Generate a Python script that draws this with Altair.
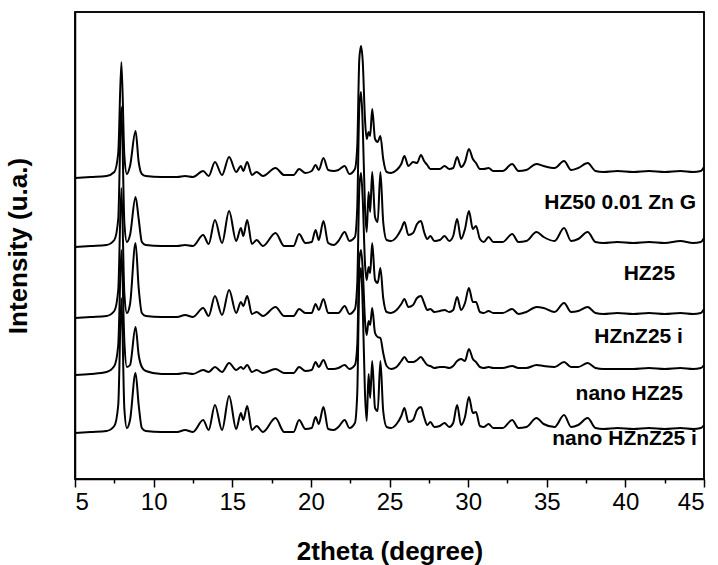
import altair as alt
import pandas as pd

# 2theta grid (degrees) shared by all patterns
two_theta = [
    5.0, 6.0, 7.0, 7.5, 7.75, 7.95, 8.14, 8.3, 8.5, 8.85,
    9.05, 9.25, 9.5, 10.5, 11.5, 12.0, 12.5, 13.15, 13.5, 13.9,
    14.35, 14.8, 15.25, 15.55, 15.7, 15.95, 16.25, 16.55, 16.95, 17.75,
    18.3, 18.9, 19.25, 19.65, 20.05, 20.3, 20.5, 20.8, 21.1, 21.45,
    21.75, 22.15, 22.45, 22.8, 22.95, 23.08, 23.19, 23.3, 23.44, 23.55,
    23.67, 23.77, 23.9, 24.08, 24.25, 24.42, 24.6, 24.82, 25.1, 25.45,
    25.75, 25.95, 26.2, 26.5, 26.75, 27.0, 27.2, 27.4, 27.6, 27.85,
    28.2, 28.5, 28.8, 29.05, 29.3, 29.55, 29.8, 30.05, 30.3, 30.5,
    30.75, 31.0, 31.3, 31.6, 32.2, 32.8, 33.2, 33.7, 34.35, 34.8,
    35.5, 36.1, 36.55, 37.0, 37.6, 38.1, 38.6, 39.5, 40.5, 41.5,
    42.5, 43.5, 44.3, 44.8, 45.0,
]

# intensities (a.u., above each pattern's own baseline)
hz50_zn_g = [
    0, 1, 2, 6, 25, 116, 22, 4, 12, 47,
    16, 4, 2, 1, 1, 2, 1, 7, 2, 16,
    3, 21, 6, 12, 7, 16, 3, 6, 2, 10,
    3, 3, 9, 5, 7, 13, 8, 20, 8, 7,
    8, 12, 4, 9, 32, 119, 132, 116, 59, 39,
    46, 42, 69, 39, 36, 42, 19, 6, 5, 8,
    14, 22, 12, 16, 15, 23, 17, 13, 9, 9,
    9, 12, 9, 10, 21, 11, 16, 29, 19, 15,
    9, 9, 10, 7, 7, 14, 7, 8, 14, 12,
    10, 17, 8, 10, 15, 7, 6, 7, 6, 7,
    6, 7, 6, 7, 11,
]
hz25 = [
    0, 1, 2, 7, 28, 140, 24, 5, 12, 50,
    28, 5, 2, 1, 1, 2, 1, 12, 3, 27,
    4, 36, 6, 19, 11, 27, 3, 7, 1, 14,
    1, 1, 13, 4, 5, 17, 7, 26, 4, 2,
    6, 15, 6, 10, 40, 140, 155, 120, 40, 15,
    55, 35, 75, 30, 25, 75, 25, 7, 6, 10,
    18, 25, 12, 14, 23, 26, 15, 8, 11, 6,
    7, 11, 6, 11, 28, 8, 18, 36, 18, 21,
    8, 5, 10, 5, 5, 13, 5, 6, 15, 10,
    6, 19, 6, 8, 15, 5, 4, 5, 4, 5,
    4, 6, 4, 5, 9,
]
hznz25_i = [
    0, 1, 2, 7, 28, 130, 24, 5, 14, 75,
    30, 5, 2, 1, 1, 3, 1, 10, 2, 22,
    3, 28, 5, 16, 12, 22, 4, 6, 2, 11,
    2, 2, 9, 5, 5, 14, 8, 19, 5, 5,
    5, 12, 4, 9, 35, 130, 145, 118, 55, 38,
    51, 45, 75, 38, 35, 50, 20, 6, 5, 8,
    14, 19, 11, 13, 20, 22, 15, 8, 9, 6,
    7, 8, 6, 8, 21, 8, 15, 30, 16, 16,
    6, 5, 7, 5, 5, 9, 4, 6, 11, 10,
    6, 15, 6, 7, 11, 5, 4, 5, 4, 5,
    4, 5, 4, 5, 9,
]
nano_hz25 = [
    0, 1, 3, 9, 30, 125, 33, 8, 10, 48,
    20, 8, 4, 1, 1, 2, 1, 5, 3, 8,
    3, 12, 5, 8, 6, 10, 3, 5, 2, 6,
    2, 2, 8, 4, 5, 13, 8, 15, 6, 6,
    7, 10, 6, 10, 30, 115, 125, 105, 55, 40,
    54, 50, 67, 42, 38, 37, 22, 9, 6, 8,
    14, 18, 13, 13, 15, 18, 14, 10, 9, 7,
    8, 8, 7, 9, 14, 16, 14, 26, 16, 13,
    8, 7, 8, 7, 7, 9, 7, 7, 10, 9,
    8, 13, 8, 8, 12, 7, 6, 6, 6, 7,
    6, 7, 6, 7, 10,
]
nano_hznz25_i = [
    0, 1, 2, 7, 28, 135, 24, 5, 13, 60,
    28, 5, 2, 1, 1, 3, 1, 13, 3, 28,
    3, 37, 4, 20, 13, 27, 3, 7, 1, 15,
    1, 1, 13, 4, 5, 16, 9, 26, 4, 3,
    6, 13, 5, 10, 40, 150, 165, 125, 40, 12,
    59, 35, 72, 25, 22, 72, 22, 6, 5, 9,
    17, 25, 11, 13, 23, 26, 16, 8, 11, 6,
    7, 10, 6, 10, 28, 8, 16, 36, 20, 21,
    7, 6, 9, 5, 5, 13, 5, 6, 15, 9,
    6, 18, 6, 8, 15, 5, 4, 5, 4, 5,
    4, 5, 4, 5, 8,
]

samples = ["HZ50 0.01 Zn G", "HZ25", "HZnZ25 i", "nano HZ25", "nano HZnZ25 i"]
offsets = [301, 232, 161, 104, 46]
label_x = [44.49, 43.16, 43.66, 43.66, 44.55]
label_y = [270, 199, 136, 79, 34]

x_domain = [5, 45]
y_domain = [0, 467]

series = [hz50_zn_g, hz25, hznz25_i, nano_hz25, nano_hznz25_i]
rows = []
for name, off, vals in zip(samples, offsets, series):
    assert len(vals) == len(two_theta), (name, len(vals), len(two_theta))
    for i, (x, v) in enumerate(zip(two_theta, vals)):
        rows.append({"sample": name, "order": i, "two_theta": x, "intensity": off + v})
df = pd.DataFrame(rows)
labels_df = pd.DataFrame({"text": samples, "x": label_x, "y": label_y})
frame_df = pd.DataFrame({"x": [x_domain[0]], "x2": [x_domain[1]],
                         "y": [y_domain[0]], "y2": [y_domain[1]]})

FONT = "Liberation Sans"
tick_vals = [5 + 2.5 * k for k in range(17)]

x_scale = alt.Scale(domain=x_domain, nice=False)
y_scale = alt.Scale(domain=y_domain, nice=False, zero=False)

x_axis = alt.Axis(title="2theta (degree)", values=tick_vals, orient="bottom",
                  labelExpr="datum.value % 5 === 0 ? datum.label : ''",
                  tickSize={"condition": {"test": "datum.value % 5 !== 0", "value": 4}, "value": 8},
                  tickColor="black", tickWidth=1.5, grid=False,
                  labelFont=FONT, labelFontSize=24, labelColor="black", labelPadding=3,
                  titleFont=FONT, titleFontSize=26, titleFontWeight="bold", titleColor="black",
                  titlePadding=24, domainColor="black", domainWidth=1.5)
y_axis = alt.Axis(title="Intensity (u.a.)", labels=False, ticks=False, grid=False, orient="left",
                  titleFont=FONT, titleFontSize=26, titleFontWeight="bold", titleColor="black",
                  titlePadding=44, domainColor="black", domainWidth=1.5)

lines = alt.Chart(df).mark_line(strokeWidth=2, interpolate="monotone", color="black",
                                strokeJoin="round").encode(
    x=alt.X("two_theta:Q", scale=x_scale, axis=x_axis),
    y=alt.Y("intensity:Q", scale=y_scale, axis=y_axis),
    detail="sample:N",
    order="order:Q",
)

texts = alt.Chart(labels_df).mark_text(
    align="right", baseline="alphabetic", font=FONT, fontSize=21, fontWeight="bold", color="black"
).encode(
    x=alt.X("x:Q", scale=x_scale, axis=x_axis),
    y=alt.Y("y:Q", scale=y_scale, axis=y_axis),
    text="text:N",
)

# plot frame spanning the full axis domains
frame = alt.Chart(frame_df).mark_rect(filled=False, stroke="black", strokeWidth=1.5).encode(
    x=alt.X("x:Q", scale=x_scale, axis=x_axis),
    x2="x2:Q",
    y=alt.Y("y:Q", scale=y_scale, axis=y_axis),
    y2="y2:Q",
)

chart = alt.layer(lines, texts, frame).properties(
    width=629, height=467,
    background="white",
    autosize=alt.AutoSizeParams(type="none"),
    padding={"left": 75, "top": 12, "right": 14, "bottom": 86},
).configure_view(stroke="black", strokeWidth=1.5)

chart.save("out.html", embed_options={"renderer": "svg", "actions": False})
